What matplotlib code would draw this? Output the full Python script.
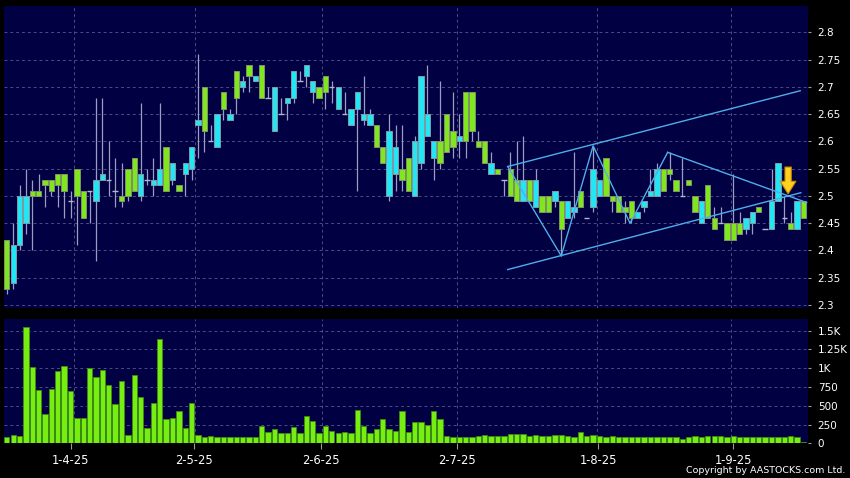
import numpy as np
import matplotlib.pyplot as plt

# --- daily candles (index 0 = first trading day shown) ---
opens = [2.42, 2.34, 2.41, 2.45, 2.51, 2.51, 2.53, 2.53, 2.54, 2.54,
         2.49, 2.55, 2.51, 2.51, 2.49, 2.53, 2.53, 2.51, 2.50, 2.55,
         2.57, 2.50, 2.53, 2.52, 2.52, 2.59, 2.53, 2.52, 2.54, 2.55,
         2.63, 2.70, 2.60, 2.59, 2.69, 2.64, 2.73, 2.70, 2.74, 2.71,
         2.74, 2.68, 2.62, 2.65, 2.67, 2.68, 2.71, 2.72, 2.69, 2.70,
         2.72, 2.70, 2.66, 2.65, 2.63, 2.66, 2.64, 2.63, 2.63, 2.59,
         2.50, 2.54, 2.55, 2.57, 2.50, 2.56, 2.61, 2.57, 2.60, 2.65,
         2.62, 2.60, 2.69, 2.69, 2.60, 2.60, 2.54, 2.55, 2.53, 2.55,
         2.53, 2.49, 2.53, 2.48, 2.50, 2.50, 2.49, 2.49, 2.46, 2.47,
         2.51, 2.46, 2.48, 2.50, 2.57, 2.50, 2.50, 2.48, 2.49, 2.46,
         2.48, 2.50, 2.50, 2.55, 2.55, 2.53, 2.50, 2.53, 2.50, 2.45,
         2.52, 2.46, 2.45, 2.45, 2.45, 2.45, 2.44, 2.45, 2.48, 2.44,
         2.44, 2.49, 2.46, 2.45, 2.44, 2.49]
highs = [2.42, 2.45, 2.52, 2.55, 2.53, 2.54, 2.53, 2.53, 2.54, 2.54,
         2.51, 2.55, 2.51, 2.51, 2.68, 2.68, 2.60, 2.57, 2.56, 2.55,
         2.57, 2.67, 2.55, 2.57, 2.67, 2.59, 2.56, 2.52, 2.56, 2.59,
         2.76, 2.70, 2.63, 2.65, 2.69, 2.66, 2.73, 2.72, 2.74, 2.72,
         2.74, 2.70, 2.70, 2.68, 2.68, 2.73, 2.73, 2.74, 2.71, 2.70,
         2.72, 2.71, 2.70, 2.69, 2.66, 2.69, 2.72, 2.66, 2.63, 2.59,
         2.65, 2.63, 2.63, 2.57, 2.61, 2.72, 2.74, 2.60, 2.71, 2.65,
         2.69, 2.65, 2.69, 2.69, 2.62, 2.60, 2.58, 2.55, 2.53, 2.58,
         2.60, 2.61, 2.53, 2.55, 2.50, 2.50, 2.51, 2.49, 2.49, 2.58,
         2.51, 2.46, 2.59, 2.53, 2.57, 2.50, 2.50, 2.49, 2.49, 2.47,
         2.49, 2.55, 2.56, 2.55, 2.58, 2.53, 2.57, 2.53, 2.50, 2.49,
         2.52, 2.48, 2.48, 2.45, 2.54, 2.47, 2.46, 2.47, 2.48, 2.44,
         2.55, 2.56, 2.50, 2.47, 2.49, 2.49]
lows = [2.32, 2.33, 2.40, 2.43, 2.40, 2.50, 2.48, 2.50, 2.48, 2.46,
        2.46, 2.41, 2.46, 2.45, 2.38, 2.53, 2.50, 2.48, 2.48, 2.49,
        2.51, 2.49, 2.52, 2.50, 2.52, 2.51, 2.52, 2.51, 2.50, 2.53,
        2.57, 2.58, 2.60, 2.59, 2.64, 2.64, 2.65, 2.69, 2.69, 2.71,
        2.68, 2.68, 2.62, 2.65, 2.64, 2.67, 2.71, 2.70, 2.67, 2.68,
        2.66, 2.67, 2.66, 2.65, 2.63, 2.51, 2.63, 2.63, 2.59, 2.56,
        2.49, 2.51, 2.51, 2.51, 2.50, 2.55, 2.61, 2.53, 2.55, 2.58,
        2.57, 2.57, 2.57, 2.60, 2.59, 2.56, 2.54, 2.54, 2.50, 2.50,
        2.49, 2.49, 2.49, 2.48, 2.47, 2.47, 2.48, 2.39, 2.46, 2.46,
        2.48, 2.46, 2.47, 2.50, 2.50, 2.47, 2.47, 2.45, 2.45, 2.46,
        2.47, 2.50, 2.50, 2.51, 2.53, 2.51, 2.50, 2.52, 2.47, 2.45,
        2.46, 2.44, 2.45, 2.42, 2.42, 2.43, 2.43, 2.43, 2.47, 2.44,
        2.44, 2.49, 2.45, 2.44, 2.44, 2.46]
closes = [2.33, 2.41, 2.50, 2.50, 2.50, 2.50, 2.52, 2.51, 2.52, 2.51,
          2.49, 2.50, 2.46, 2.51, 2.53, 2.54, 2.53, 2.51, 2.49, 2.50,
          2.51, 2.54, 2.53, 2.53, 2.55, 2.51, 2.56, 2.51, 2.56, 2.59,
          2.64, 2.62, 2.60, 2.65, 2.66, 2.65, 2.68, 2.71, 2.72, 2.72,
          2.68, 2.68, 2.70, 2.65, 2.68, 2.73, 2.71, 2.74, 2.71, 2.68,
          2.69, 2.70, 2.70, 2.65, 2.66, 2.69, 2.65, 2.65, 2.59, 2.56,
          2.62, 2.59, 2.53, 2.51, 2.60, 2.72, 2.65, 2.60, 2.56, 2.58,
          2.59, 2.61, 2.60, 2.62, 2.59, 2.56, 2.56, 2.54, 2.53, 2.50,
          2.49, 2.53, 2.49, 2.53, 2.47, 2.47, 2.51, 2.44, 2.49, 2.48,
          2.48, 2.46, 2.55, 2.53, 2.50, 2.49, 2.47, 2.47, 2.46, 2.47,
          2.49, 2.51, 2.55, 2.51, 2.54, 2.51, 2.50, 2.52, 2.47, 2.49,
          2.46, 2.44, 2.45, 2.42, 2.42, 2.43, 2.46, 2.47, 2.47, 2.44,
          2.49, 2.56, 2.46, 2.44, 2.49, 2.46]
volumes = [88, 110, 92, 1553, 1022, 715, 386, 719, 960, 1026,
           697, 338, 333, 1004, 877, 978, 772, 518, 833, 110,
           912, 614, 202, 540, 1395, 325, 342, 434, 202, 540,
           114, 88, 92, 83, 79, 79, 83, 83, 79, 83,
           237, 145, 197, 136, 136, 215, 140, 368, 298, 132,
           224, 162, 132, 149, 132, 447, 224, 136, 189, 329,
           189, 162, 430, 149, 290, 290, 250, 430, 330, 100,
           88, 88, 88, 88, 96, 105, 96, 96, 96, 123,
           118, 118, 96, 110, 96, 92, 105, 110, 92, 88,
           145, 96, 105, 92, 88, 92, 88, 88, 88, 88,
           88, 88, 88, 88, 88, 88, 53, 83, 96, 88,
           92, 96, 92, 88, 92, 88, 83, 88, 83, 83,
           83, 88, 88, 101, 88, 12]

# x axis dates (positions in trading-day index)
date_labels = ['1-4-25', '2-5-25', '2-6-25', '2-7-25', '1-8-25', '1-9-25']
date_pos = [10.0, 29.3, 49.35, 70.6, 92.8, 114.0]
grid_pos = [10.6, 29.6, 49.5, 70.6, 92.6, 113.6]

price_ticks = [2.3, 2.35, 2.4, 2.45, 2.5, 2.55, 2.6, 2.65, 2.7, 2.75, 2.8]
vol_ticks = [0, 250, 500, 750, 1000, 1250, 1500]
vol_tick_labels = ['0', '250', '500', '750', '1K', '1.25K', '1.5K']

# drawn trend lines: (index, price)
upper_x, upper_y = [78.6, 124.5], [2.554, 2.693]
lower_x, lower_y = [78.6, 124.6], [2.365, 2.506]
zigzag_x = [78.6, 87.0, 92.0, 97.8, 103.7]
zigzag_y = [2.554, 2.39, 2.592, 2.45, 2.58]
resist_x, resist_y = [103.7, 125.5], [2.58, 2.488]
signal_x, signal_top, signal_tip = 122.6, 2.553, 2.504

# colours
navy = '#000042'
up_col = '#22E6F4'
down_col = '#80E61E'
wick_col = '#9C9CC4'
grid_col = '#4C4C86'
line_col = '#4FAEEA'

o = np.array(opens)
h = np.array(highs)
l = np.array(lows)
c = np.array(closes)
x = np.arange(len(o))
up = c > o
down = c < o
flat = c == o

fig = plt.figure(figsize=(8.5, 4.78), dpi=100, facecolor='black')
ax = fig.add_axes([4 / 850, 1 - 308 / 478, 804 / 850, 302.3 / 478], facecolor=navy)
axv = fig.add_axes([4 / 850, 1 - 443.3 / 478, 804 / 850, 124 / 478], facecolor=navy)

## --- price panel --- ##
ax.vlines(x, l, h, color=wick_col, lw=0.9, zorder=2)
ax.bar(x[up], (c - o)[up], bottom=o[up], width=0.84, color=up_col,
       edgecolor='#7E9CA6', lw=0.7, zorder=3)
ax.bar(x[down], (o - c)[down], bottom=c[down], width=0.84, color=down_col,
       edgecolor='#7E9466', lw=0.7, zorder=3)
ax.hlines(c[flat], x[flat] - 0.42, x[flat] + 0.42, color='#B4B4D4', lw=1.0, zorder=3)

ax.plot(upper_x, upper_y, color=line_col, lw=1.0, zorder=4)
ax.plot(lower_x, lower_y, color=line_col, lw=1.0, zorder=4)
ax.plot(zigzag_x, zigzag_y, color=line_col, lw=1.0, zorder=4)
ax.plot(resist_x, resist_y, color=line_col, lw=1.0, zorder=4)

ax.annotate('', xy=(signal_x, signal_tip), xytext=(signal_x, signal_top),
            arrowprops=dict(arrowstyle='simple,head_length=1.0,head_width=1.25,tail_width=0.5',
                            fc='#FFD21F', ec='#D08A00', lw=0.8,
                            shrinkA=0, shrinkB=0, mutation_scale=9), zorder=5)

ax.set_xlim(-0.44, 125.72)
ax.set_ylim(2.2945, 2.849)
ax.set_yticks(price_ticks)
ax.set_yticklabels([f'{t:g}' for t in price_ticks])
ax.yaxis.tick_right()
ax.tick_params(axis='y', direction='out', length=2.5, width=0.8, color='#9A9A9A',
               labelcolor='white', labelsize=7.5, pad=4.5)
ax.tick_params(axis='x', bottom=False, labelbottom=False)
ax.grid(axis='y', color=grid_col, lw=0.7, linestyle=(0, (3, 3)))
for gx in grid_pos:
    ax.axvline(gx, color=grid_col, lw=0.7, linestyle=(0, (3, 3)), zorder=0.5)
ax.set_axisbelow(True)

## --- volume panel --- ##
axv.bar(x, volumes, width=0.84, color='#76EE12', edgecolor='#3E8C0E', lw=0.6, zorder=3)
axv.set_xlim(-0.44, 125.72)
axv.set_ylim(0, 1652)
axv.set_yticks(vol_ticks)
axv.set_yticklabels(vol_tick_labels)
axv.yaxis.tick_right()
axv.tick_params(axis='y', direction='out', length=2.5, width=0.8, color='#9A9A9A',
                labelcolor='white', labelsize=7.5, pad=4.5)
axv.set_xticks(date_pos)
axv.set_xticklabels(date_labels)
axv.tick_params(axis='x', direction='out', length=4, width=0.8, color='#9A9A9A',
                labelcolor='white', labelsize=8.3, pad=3.5)
axv.grid(axis='y', color=grid_col, lw=0.7, linestyle=(0, (3, 3)))
for gx in grid_pos:
    axv.axvline(gx, color=grid_col, lw=0.7, linestyle=(0, (3, 3)), zorder=0.5)
axv.set_axisbelow(True)

for a in (ax, axv):
    for s in a.spines.values():
        s.set_visible(False)

fig.text(0.994, 0.006, 'Copyright by AASTOCKS.com Ltd.', color='white',
         fontsize=6.8, ha='right', va='bottom')

fig.savefig('out.png', dpi=100, facecolor='black')
